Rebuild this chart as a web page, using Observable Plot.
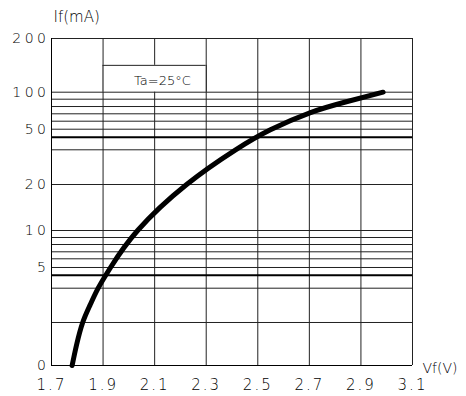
<!DOCTYPE html>
<html><head><meta charset="utf-8">
<script src="https://cdn.jsdelivr.net/npm/d3@7"></script>
<script src="https://cdn.jsdelivr.net/npm/@observablehq/plot@0.6"></script>
<style>
body{margin:0;background:#fff}
svg text{font-family:"DejaVu Sans",sans-serif;font-weight:200;fill:#000}
</style>
</head><body><div id="chart"></div>
<script>
// Forward voltage (V) vs forward current (mA)
const vf = [1.780, 1.798, 1.821, 1.849, 1.881, 1.929, 2.034, 2.224, 2.414, 2.549, 2.702, 2.840, 2.986];
const iF = [0, 1.0, 2, 2.5, 3, 5, 10, 20, 30, 49.3, 71.4, 86.2, 100];
const xTicks = [1.7, 1.9, 2.1, 2.3, 2.5, 2.7, 2.9, 3.1];
const yTicks = [0, 5, 10, 20, 50, 100, 200];
const yGrid = [2, 3, 5, 6, 7, 8, 9, 10, 20, 30, 50, 60, 70, 80, 90, 100];
const yGridBold = [4, 40];
const xGrid = [1.9, 2.1, 2.3, 2.5, 2.7, 2.9, 3.1];
const noteText = ["Ta=25°C"];

const curveData = vf.map((v, i) => ({v, i: iF[i]}));

// shape of the drawn (hand-made, quasi-log) current axis
const yBreaks = [0, 2, 3, 4, 5, 6, 7, 8, 9, 10, 20, 30, 40, 50, 60, 70, 80, 90, 100, 200];
const yFrac = [0, 0.1315, 0.2364, 0.2761, 0.2997, 0.3263, 0.3477, 0.3700, 0.3914, 0.4128, 0.5535, 0.6596, 0.6982, 0.7226, 0.7471, 0.7697, 0.7920, 0.8144, 0.8358, 1];

const W = 466, H = 396, mL = 51, mR = 54, mT = 38, mB = 31;
const yBottom = H - mB, yTop = mT;

const chart = Plot.plot({
  width: W, height: H,
  marginLeft: mL, marginRight: mR, marginTop: mT, marginBottom: mB,
  style: {background: "white", color: "black", overflow: "visible"},
  x: {domain: [1.7, 3.1]},
  y: {type: "linear", domain: yBreaks, range: yFrac.map(f => yBottom - f * (yBottom - yTop))},
  marks: [
    Plot.ruleX(xGrid, {stroke: "#222", strokeWidth: 1}),
    Plot.rect([{}], {x1: 1.9, x2: 2.3, y1: 100, y2: 150, fill: "white"}),
    Plot.ruleX([1.9, 2.3], {y1: 100, y2: 150, stroke: "#222"}),
    Plot.ruleY(yGrid, {stroke: "#222", strokeWidth: 1}),
    Plot.ruleY(yGridBold, {stroke: "black", strokeWidth: 2}),
    Plot.ruleY([200], {stroke: "#222"}),
    Plot.ruleY([150], {x1: 1.9, x2: 2.3, stroke: "#222"}),
    Plot.ruleX([1.7], {stroke: "black"}),
    Plot.ruleY([0], {stroke: "black"}),
    Plot.line(curveData, {x: "v", y: "i", stroke: "black", strokeWidth: 5, strokeLinecap: "round", strokeLinejoin: "round", curve: "natural"}),
    Plot.text(noteText, {x: 2.13, y: 122, fontSize: 13, ariaLabel: "note", lineAnchor: "middle"}),
    Plot.axisX({ticks: xTicks, tickSize: 0, tickPadding: 14, tickFormat: d3.format(".1f"), fontSize: 15, label: null}),
    Plot.axisY({ticks: yTicks, tickSize: 0, tickPadding: 2, tickFormat: d => String(d), fontSize: 14, label: null}),
    Plot.text(["If(mA)"], {frameAnchor: "top-left", dx: 2, dy: -21, textAnchor: "start", lineAnchor: "middle", fontSize: 15, ariaLabel: "ylabel"}),
    Plot.text(["Vf(V)"], {frameAnchor: "bottom-right", dx: 10, dy: 3, textAnchor: "start", lineAnchor: "middle", fontSize: 14, ariaLabel: "xlabel"})
  ]
});
document.getElementById("chart").appendChild(chart);

const setLS = (sel, ls) => chart.querySelectorAll(sel).forEach(t => t.setAttribute("letter-spacing", ls));
setLS('[aria-label="x-axis tick label"] text', 2);
setLS('[aria-label="y-axis tick label"] text', 3.5);
setLS('[aria-label="ylabel"] text', 4.5);
setLS('[aria-label="xlabel"] text', 1.5);
setLS('[aria-label="note"] text', 0.3);
</script>
</body></html>
